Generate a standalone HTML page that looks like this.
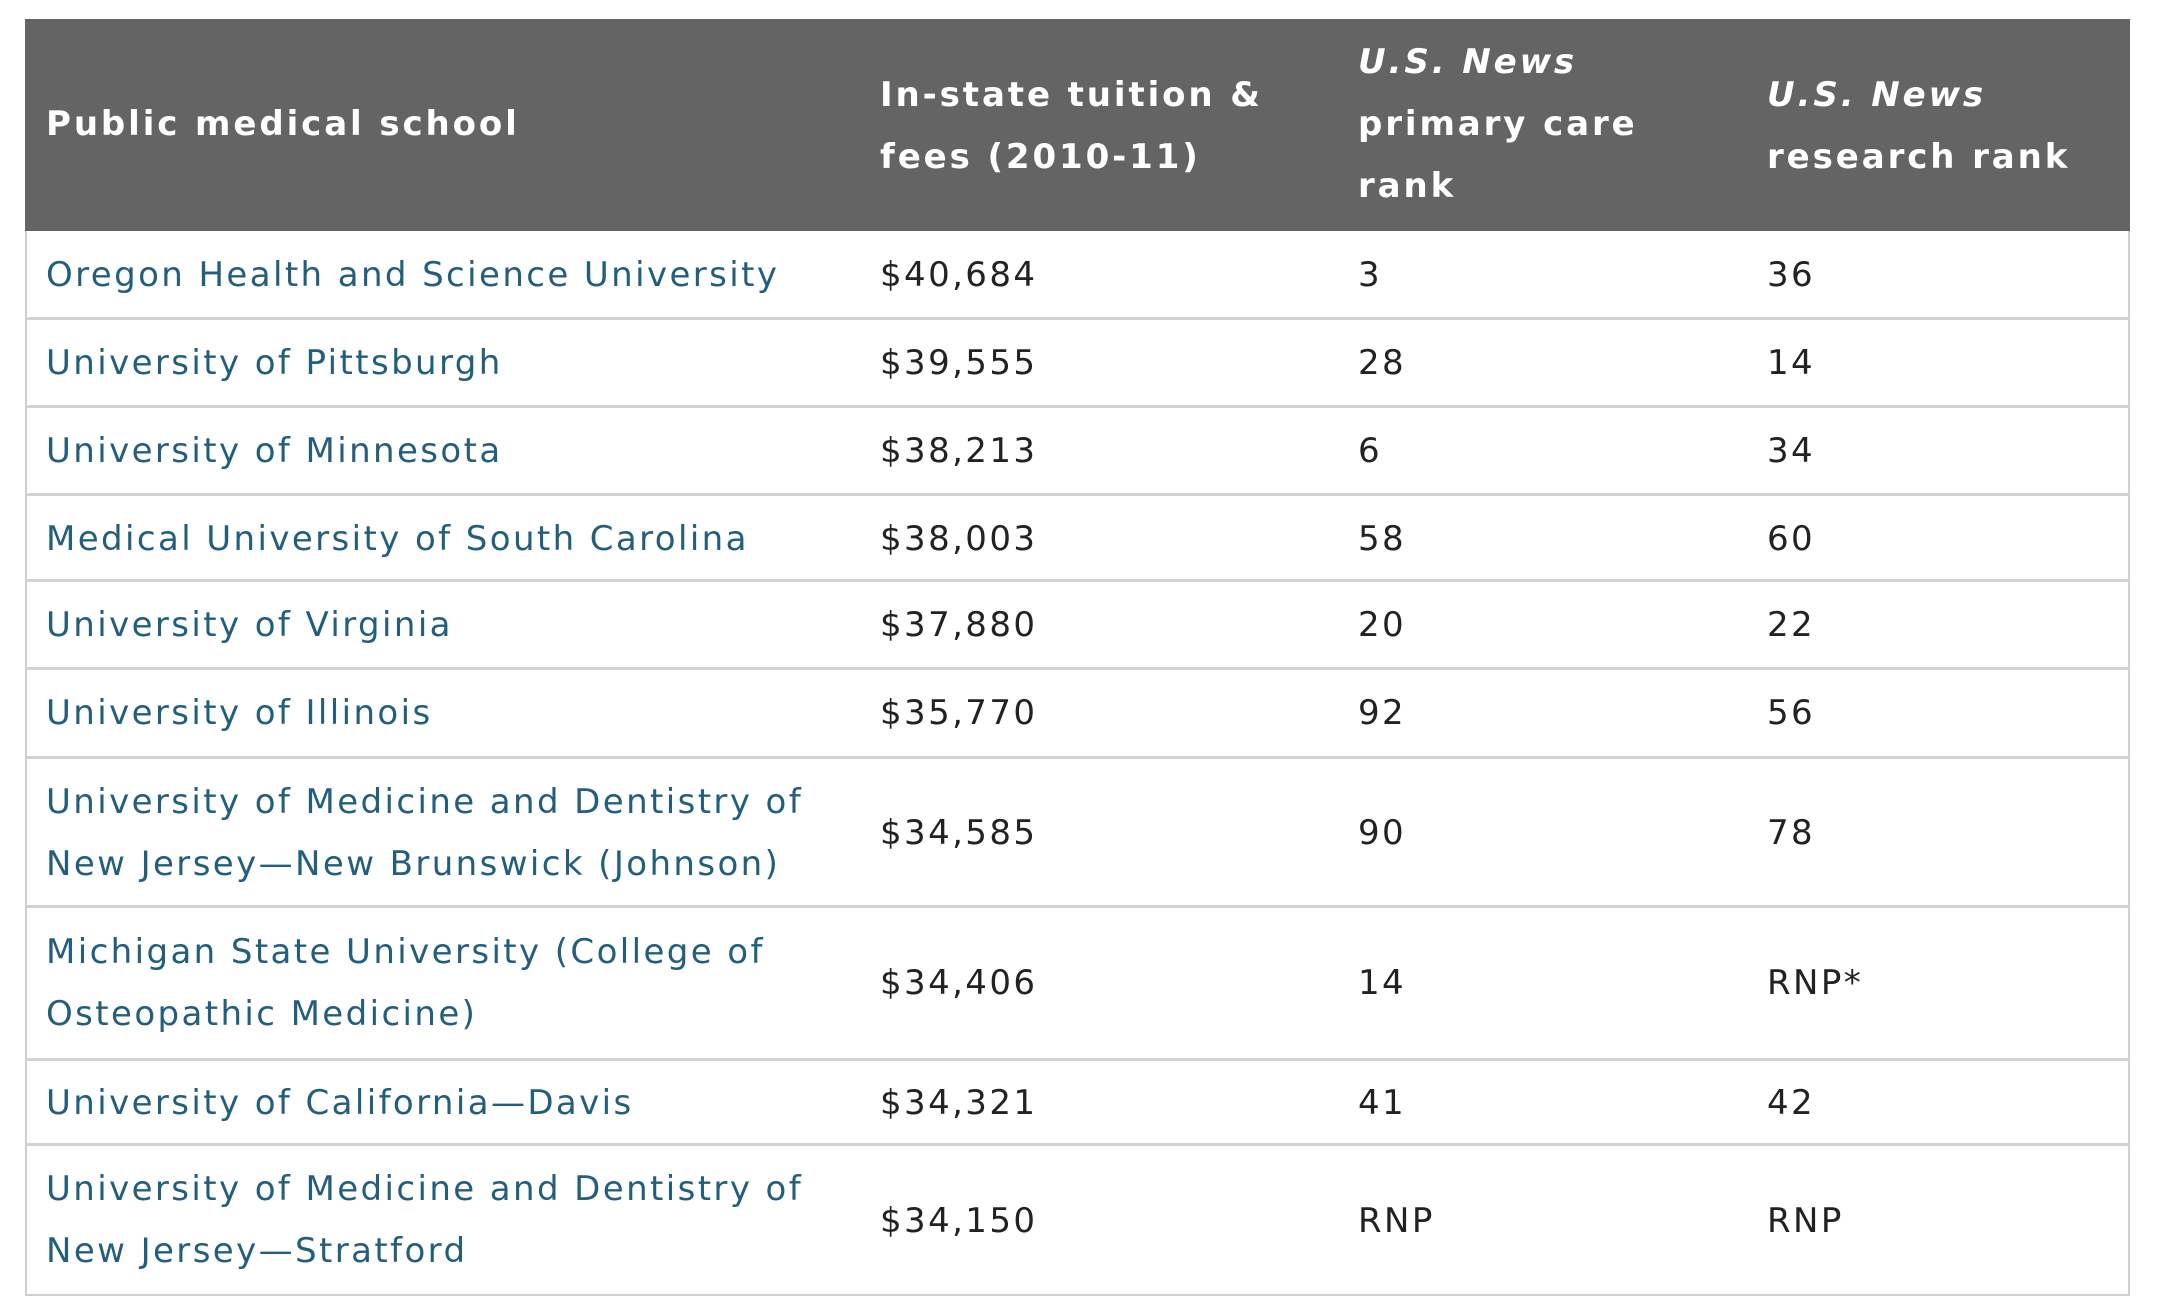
<!DOCTYPE html>
<html><head><meta charset="utf-8"><style>
body{margin:0;width:2160px;height:1313px;background:#fff;position:relative;overflow:hidden;font-family:"DejaVu Sans","Liberation Sans",sans-serif;}
.tbl{position:absolute;left:25px;top:19px;width:2105px;height:1277px;border:2px solid #cfcfcf;border-top:none;box-sizing:border-box;}
.hd{position:absolute;left:25px;top:19px;width:2105px;height:212px;background:#646464;}
.t{position:absolute;font-size:34px;letter-spacing:2.4px;line-height:62px;white-space:nowrap;}
.h{color:#fff;font-weight:bold;letter-spacing:2.9px;}
.l{color:#235f7c;}
.d{color:#222;}
.ln{position:absolute;left:25px;width:2105px;height:3px;background:#d2d2d2;}
</style></head><body>
<div class="tbl"></div>
<div class="hd"></div>
<div class="t h" style="left:46px;top:93px">Public medical school</div>
<div class="t h" style="left:880px;top:64px">In-state tuition &amp;<br>fees (2010-11)</div>
<div class="t h" style="left:1358px;top:31px"><i>U.S. News</i><br>primary care<br>rank</div>
<div class="t h" style="left:1767px;top:64px"><i>U.S. News</i><br>research rank</div>

<div class="ln" style="top:317px"></div>
<div class="ln" style="top:405px"></div>
<div class="ln" style="top:493px"></div>
<div class="ln" style="top:579px"></div>
<div class="ln" style="top:667px"></div>
<div class="ln" style="top:756px"></div>
<div class="ln" style="top:905px"></div>
<div class="ln" style="top:1058px"></div>
<div class="ln" style="top:1143px"></div>

<div class="t l" style="left:46px;top:244px">Oregon Health and Science University</div>
<div class="t d" style="left:880px;top:244px">$40,684</div>
<div class="t d" style="left:1358px;top:244px">3</div>
<div class="t d" style="left:1767px;top:244px">36</div>

<div class="t l" style="left:46px;top:332px">University of Pittsburgh</div>
<div class="t d" style="left:880px;top:332px">$39,555</div>
<div class="t d" style="left:1358px;top:332px">28</div>
<div class="t d" style="left:1767px;top:332px">14</div>

<div class="t l" style="left:46px;top:420px">University of Minnesota</div>
<div class="t d" style="left:880px;top:420px">$38,213</div>
<div class="t d" style="left:1358px;top:420px">6</div>
<div class="t d" style="left:1767px;top:420px">34</div>

<div class="t l" style="left:46px;top:508px">Medical University of South Carolina</div>
<div class="t d" style="left:880px;top:508px">$38,003</div>
<div class="t d" style="left:1358px;top:508px">58</div>
<div class="t d" style="left:1767px;top:508px">60</div>

<div class="t l" style="left:46px;top:594px">University of Virginia</div>
<div class="t d" style="left:880px;top:594px">$37,880</div>
<div class="t d" style="left:1358px;top:594px">20</div>
<div class="t d" style="left:1767px;top:594px">22</div>

<div class="t l" style="left:46px;top:682px">University of Illinois</div>
<div class="t d" style="left:880px;top:682px">$35,770</div>
<div class="t d" style="left:1358px;top:682px">92</div>
<div class="t d" style="left:1767px;top:682px">56</div>

<div class="t l" style="left:46px;top:771px">University of Medicine and Dentistry of<br>New Jersey—New Brunswick (Johnson)</div>
<div class="t d" style="left:880px;top:802px">$34,585</div>
<div class="t d" style="left:1358px;top:802px">90</div>
<div class="t d" style="left:1767px;top:802px">78</div>

<div class="t l" style="left:46px;top:921px">Michigan State University (College of<br>Osteopathic Medicine)</div>
<div class="t d" style="left:880px;top:952px">$34,406</div>
<div class="t d" style="left:1358px;top:952px">14</div>
<div class="t d" style="left:1767px;top:952px">RNP*</div>

<div class="t l" style="left:46px;top:1072px">University of California—Davis</div>
<div class="t d" style="left:880px;top:1072px">$34,321</div>
<div class="t d" style="left:1358px;top:1072px">41</div>
<div class="t d" style="left:1767px;top:1072px">42</div>

<div class="t l" style="left:46px;top:1158px">University of Medicine and Dentistry of<br>New Jersey—Stratford</div>
<div class="t d" style="left:880px;top:1190px">$34,150</div>
<div class="t d" style="left:1358px;top:1190px">RNP</div>
<div class="t d" style="left:1767px;top:1190px">RNP</div>
</body></html>
